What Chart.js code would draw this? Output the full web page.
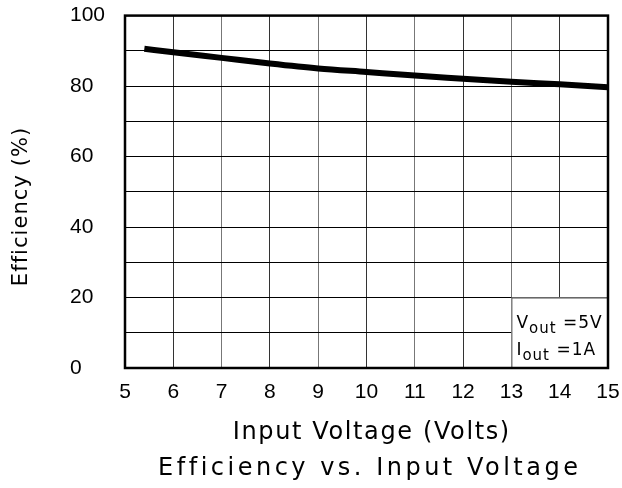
<!DOCTYPE html>
<html>
<head>
<meta charset="utf-8">
<script src="https://cdn.jsdelivr.net/npm/chart.js@4"></script>
<style>
  html, body { margin: 0; padding: 0; background: #fff; }
  #wrap { width: 622px; height: 488px; }
</style>
</head>
<body>
<div id="wrap"><canvas id="chart" width="622" height="488"></canvas></div>
<script>
// input voltage (V) and efficiency (%)
const inputVoltage = [5.4, 6, 7, 8, 9, 10, 11, 12, 13, 14, 15];
const efficiency = [90.6, 89.6, 88.0, 86.4, 85.0, 84.0, 83.0, 82.1, 81.2, 80.5, 79.7];
const yLabels = [0, 20, 40, 60, 80, 100];
const noteLines = [['V', 'out', ' =5V'], ['I', 'out', ' =1A']];

const titleFont = '24px "DejaVu Sans"';

// text spread out to a given width, like the plotter font
function spacedText(ctx, txt, cx, cy, width) {
    ctx.letterSpacing = '0px';
    const w = ctx.measureText(txt).width;
    const sp = Math.max(0, (width - w) / txt.length);
    ctx.letterSpacing = sp + 'px';
    ctx.fillText(txt, cx + sp / 2, cy);
    ctx.letterSpacing = '0px';
}

// border, note box and titles
const extras = {
    id: 'extras',
    afterDatasetsDraw(chart) {
        const ctx = chart.ctx;
        const a = chart.chartArea;
        const x = chart.scales.x, y = chart.scales.y;
        ctx.save();

        // note box
        const bx = x.getPixelForValue(13), by = y.getPixelForValue(20);
        ctx.fillStyle = '#fff';
        ctx.fillRect(bx, by, a.right - bx, a.bottom - by);
        ctx.strokeStyle = '#555';
        ctx.lineWidth = 1;
        ctx.strokeRect(bx + 0.5, by + 0.5, a.right - bx, a.bottom - by);

        ctx.fillStyle = '#000';
        ctx.textBaseline = 'alphabetic';
        ctx.letterSpacing = '1px';
        noteLines.forEach((ln, i) => {
            let px = bx + 5;
            const base = by + 30 + i * 27;
            ctx.font = '17px "DejaVu Sans"';
            ctx.fillText(ln[0], px, base);
            px += ctx.measureText(ln[0]).width;
            ctx.font = '15px "DejaVu Sans"';
            ctx.fillText(ln[1], px, base + 5);
            px += ctx.measureText(ln[1]).width;
            ctx.font = '17px "DejaVu Sans"';
            ctx.fillText(ln[2], px, base);
        });
        ctx.letterSpacing = '0px';

        // plot frame
        ctx.strokeStyle = '#000';
        ctx.lineWidth = 2.5;
        ctx.strokeRect(a.left, a.top, a.right - a.left, a.bottom - a.top);

        // titles
        ctx.font = titleFont;
        ctx.textAlign = 'center';
        ctx.textBaseline = 'middle';
        spacedText(ctx, 'Input Voltage (Volts)', 371, 433, 278);
        spacedText(ctx, 'Efficiency vs. Input Voltage', 368, 469, 423);

        ctx.font = '21px "DejaVu Sans"';
        ctx.translate(22, 207);
        ctx.rotate(-Math.PI / 2);
        spacedText(ctx, 'Efficiency (%)', 0, 0, 159);
        ctx.restore();
    }
};

new Chart(document.getElementById('chart'), {
    type: 'line',
    data: {
        datasets: [{
            data: inputVoltage.map((v, i) => ({ x: v, y: efficiency[i] })),
            borderColor: '#000',
            borderWidth: 6,
            pointRadius: 0,
            fill: false,
            cubicInterpolationMode: 'monotone'
        }]
    },
    options: {
        responsive: false,
        animation: false,
        layout: { padding: { left: 70, right: 14, top: 15, bottom: 0 } },
        plugins: { legend: { display: false }, tooltip: { enabled: false } },
        scales: {
            x: {
                type: 'linear',
                min: 5, max: 15,
                afterFit: s => { s.height = 120; s.paddingLeft = 0; s.paddingRight = 0; },
                ticks: {
                    stepSize: 1,
                    padding: 12,
                    color: '#000',
                    font: { family: 'Liberation Sans', size: 21 }
                },
                grid: { color: (c) => c.index % 2 ? '#333' : '#777', lineWidth: 1, drawTicks: false },
                border: { display: false }
            },
            y: {
                min: 0, max: 100,
                afterFit: s => { s.width = 55; },
                ticks: {
                    stepSize: 10,
                    crossAlign: 'far',
                    color: '#000',
                    font: { family: 'Liberation Sans', size: 21 },
                    callback: v => yLabels.includes(v) ? v : ''
                },
                grid: { color: '#000', lineWidth: 1, drawTicks: false },
                border: { display: false }
            }
        }
    },
    plugins: [extras]
});
</script>
</body>
</html>
